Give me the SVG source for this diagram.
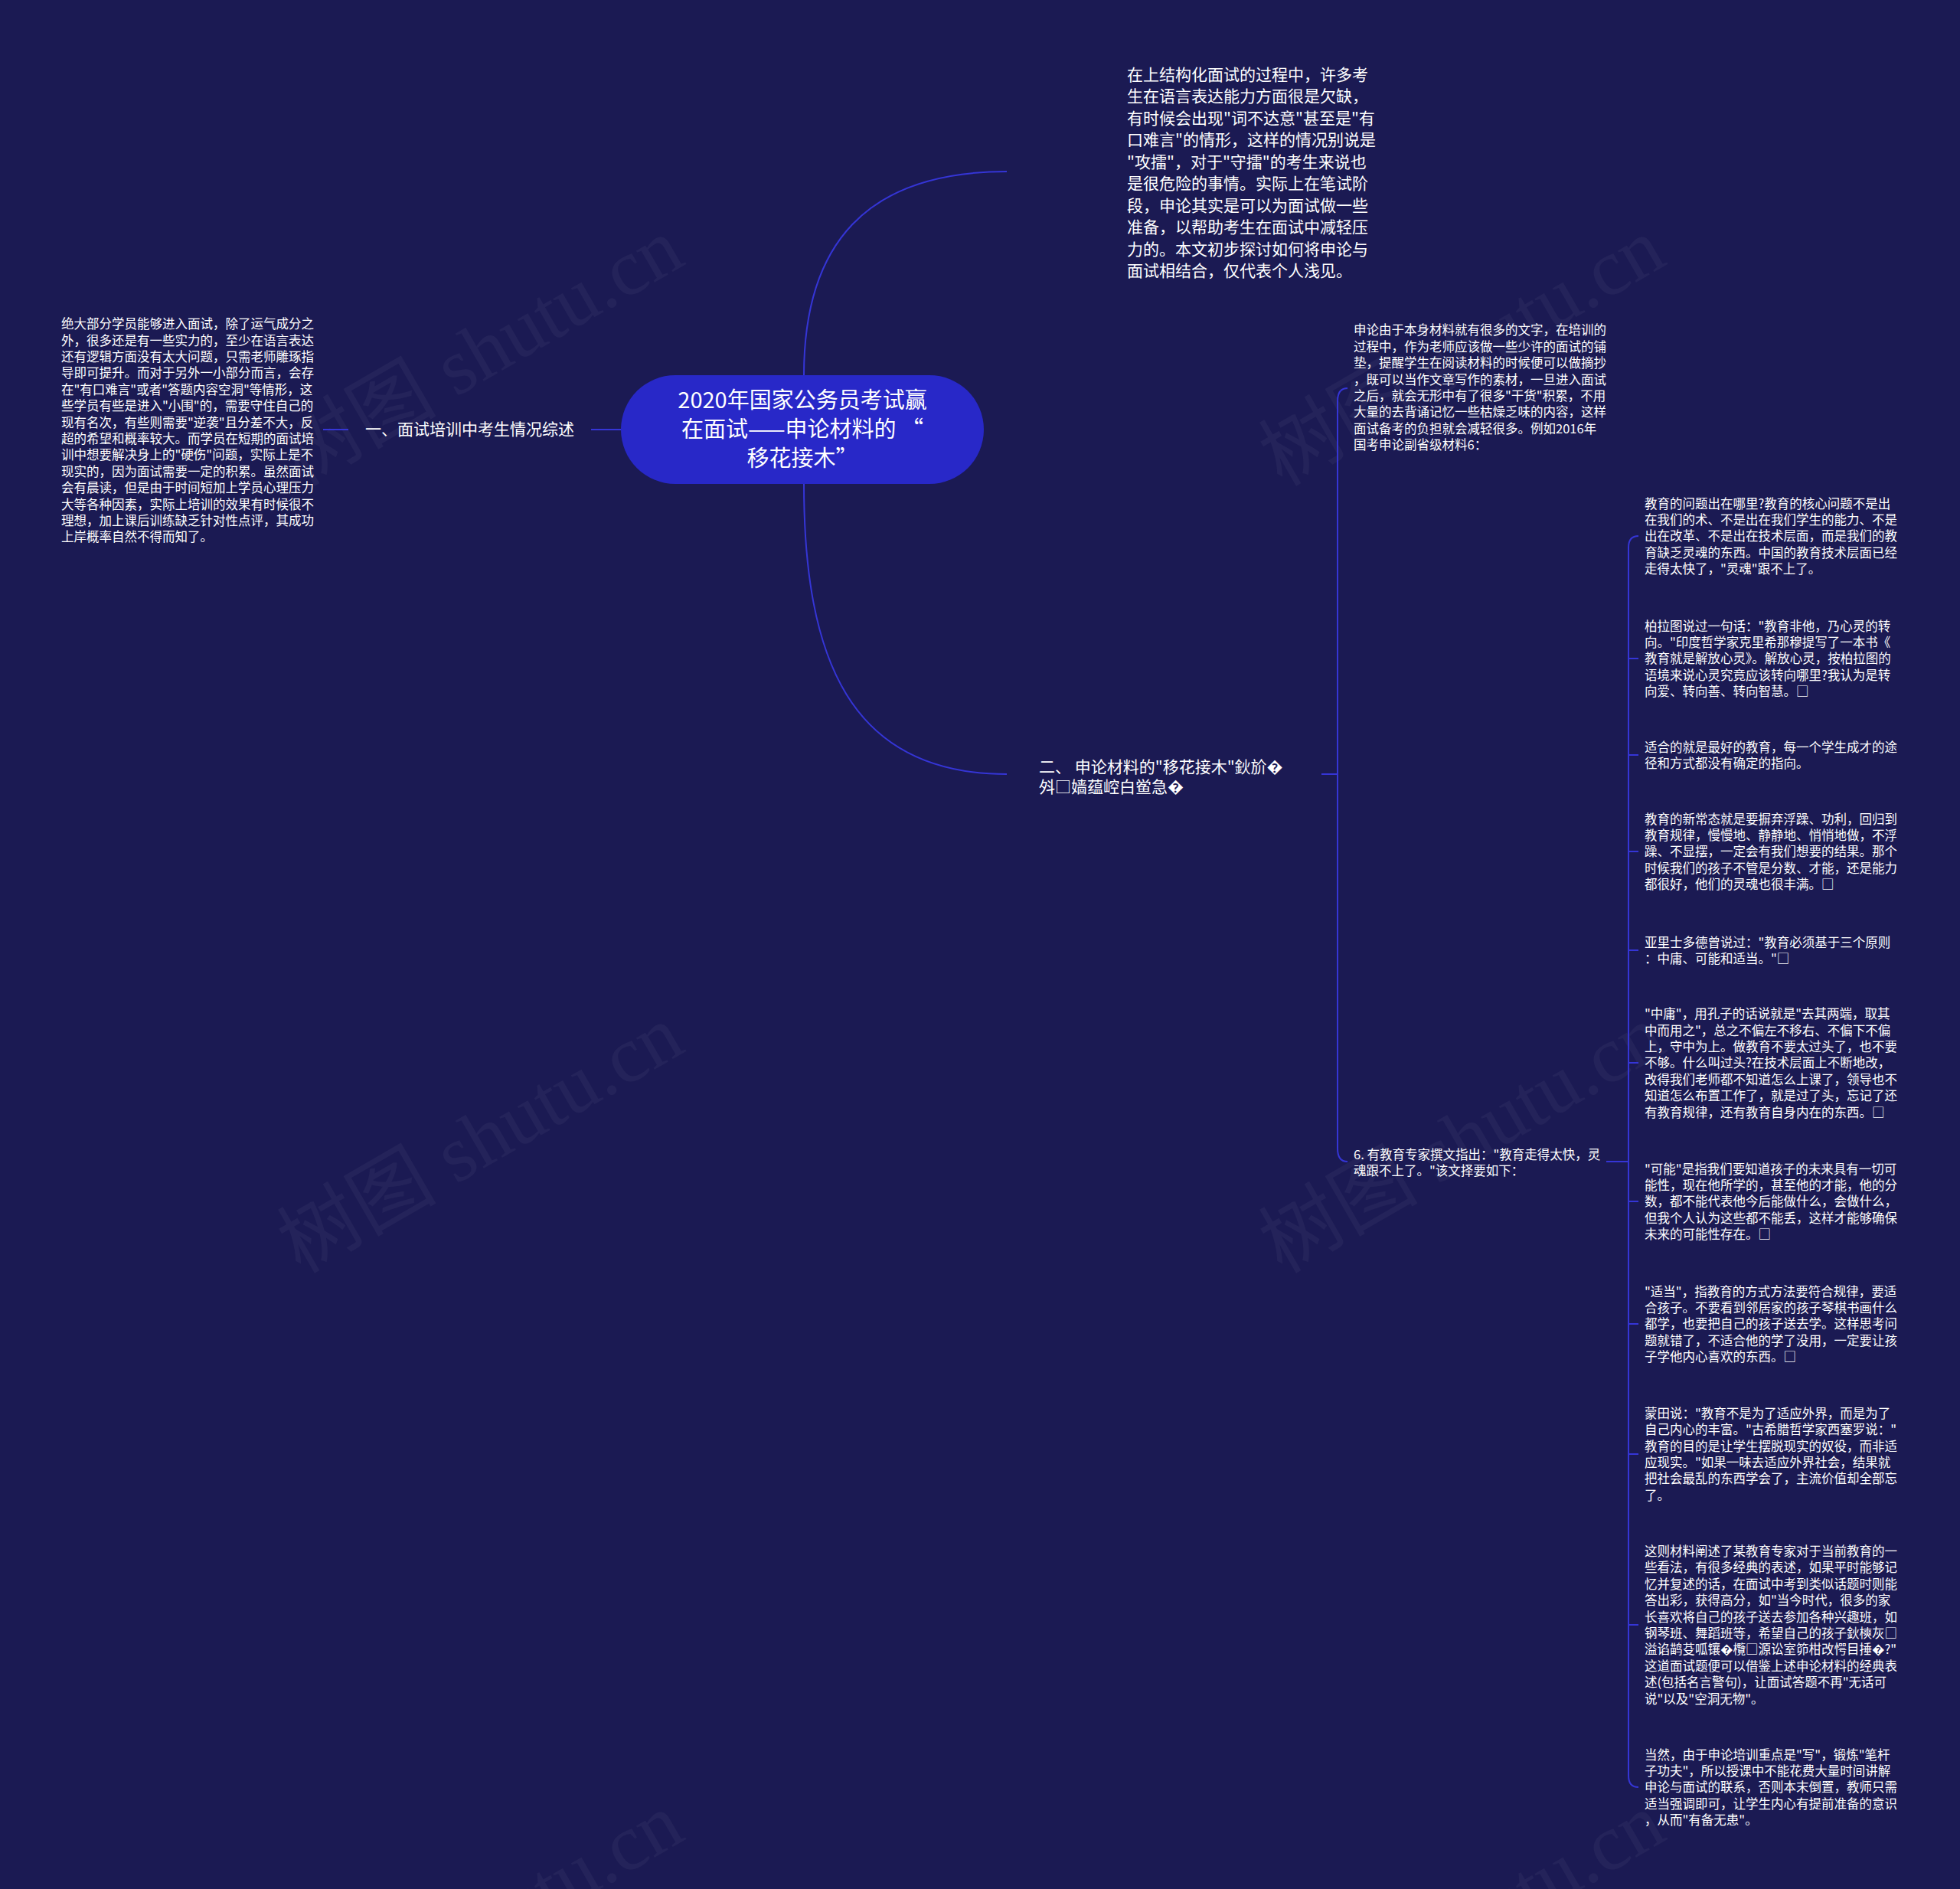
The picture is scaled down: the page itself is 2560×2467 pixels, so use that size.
<svg xmlns="http://www.w3.org/2000/svg" width="2560" height="2467" viewBox="0 0 2560 2467">
<style>
.t{font-family:"Noto Sans CJK SC","Noto Sans",sans-serif;fill:#ffffff}
.s{font-size:16.5px}
.m{font-size:21px}
.b{font-size:21px}
.c{font-size:29px;text-anchor:middle}
.l{fill:none;stroke:#3535d6;stroke-width:2}
.wm{font-family:"Liberation Serif","Noto Sans CJK SC",serif;font-size:104px;fill:#ffffff;opacity:0.04;text-anchor:middle}
</style>
<rect x="0" y="0" width="2560" height="2467" fill="#1b1a53"/>
<g id="watermarks">
<text class="wm" transform="translate(645,490) rotate(-30)">树图 shutu.cn</text>
<text class="wm" transform="translate(1927,490) rotate(-30)">树图 shutu.cn</text>
<text class="wm" transform="translate(645,1518) rotate(-30)">树图 shutu.cn</text>
<text class="wm" transform="translate(1927,1518) rotate(-30)">树图 shutu.cn</text>
<text class="wm" transform="translate(645,2547) rotate(-30)">树图 shutu.cn</text>
<text class="wm" transform="translate(1927,2547) rotate(-30)">树图 shutu.cn</text>
</g>
<g id="connectors">
<path class="l" d="M1050,490 C1050,320 1130,224 1315,224"/>
<path class="l" d="M1050,632 C1050,860 1110,1011 1315,1011"/>
<path class="l" d="M811,561 H772"/>
<path class="l" d="M455,561 H422"/>
<path class="l" d="M1726,1011 H1747"/>
<path class="l" d="M1760,507 Q1747,507 1747,524 V1500 Q1747,1517 1760,1517"/>
<path class="l" d="M2098,1517 H2127"/>
<path class="l" d="M2140,700 Q2127,700 2127,715 V2319 Q2127,2334 2140,2334"/>
<path class="l" d="M2127,860 H2140 M2127,986 H2140 M2127,1112 H2140 M2127,1241 H2140 M2127,1388 H2140 M2127,1569 H2140 M2127,1729 H2140 M2127,1899 H2140 M2127,2122 H2140"/>
</g>
<g id="root">
<rect x="811" y="490" width="474" height="142" rx="71" ry="71" fill="#2828c8"/>
<text class="t c"><tspan x="1048" y="533">2020年国家公务员考试赢</tspan><tspan x="1048" y="571">在面试——申论材料的 “</tspan><tspan x="1048" y="609">移花接木”</tspan></text>
</g>
<g id="intro">
<text class="t m"><tspan x="1472" y="105">在上结构化面试的过程中，许多考</tspan><tspan x="1472" dy="28.45">生在语言表达能力方面很是欠缺，</tspan><tspan x="1472" dy="28.45">有时候会出现"词不达意"甚至是"有</tspan><tspan x="1472" dy="28.45">口难言"的情形，这样的情况别说是</tspan><tspan x="1472" dy="28.45">"攻擂"，对于"守擂"的考生来说也</tspan><tspan x="1472" dy="28.45">是很危险的事情。实际上在笔试阶</tspan><tspan x="1472" dy="28.45">段，申论其实是可以为面试做一些</tspan><tspan x="1472" dy="28.45">准备，以帮助考生在面试中减轻压</tspan><tspan x="1472" dy="28.45">力的。本文初步探讨如何将申论与</tspan><tspan x="1472" dy="28.45">面试相结合，仅代表个人浅见。</tspan></text>
</g>
<g id="branch1">
<text class="t b" x="477" y="568">一、面试培训中考生情况综述</text>
</g>
<g id="branch1-detail">
<text class="t s"><tspan x="80" y="429.2">绝大部分学员能够进入面试，除了运气成分之</tspan><tspan x="80" dy="21.4">外，很多还是有一些实力的，至少在语言表达</tspan><tspan x="80" dy="21.4">还有逻辑方面没有太大问题，只需老师雕琢指</tspan><tspan x="80" dy="21.4">导即可提升。而对于另外一小部分而言，会存</tspan><tspan x="80" dy="21.4">在"有口难言"或者"答题内容空洞"等情形，这</tspan><tspan x="80" dy="21.4">些学员有些是进入"小围"的，需要守住自己的</tspan><tspan x="80" dy="21.4">现有名次，有些则需要"逆袭"且分差不大，反</tspan><tspan x="80" dy="21.4">超的希望和概率较大。而学员在短期的面试培</tspan><tspan x="80" dy="21.4">训中想要解决身上的"硬伤"问题，实际上是不</tspan><tspan x="80" dy="21.4">现实的，因为面试需要一定的积累。虽然面试</tspan><tspan x="80" dy="21.4">会有晨读，但是由于时间短加上学员心理压力</tspan><tspan x="80" dy="21.4">大等各种因素，实际上培训的效果有时候很不</tspan><tspan x="80" dy="21.4">理想，加上课后训练缺乏针对性点评，其成功</tspan><tspan x="80" dy="21.4">上岸概率自然不得而知了。</tspan></text>
</g>
<g id="branch2">
<text class="t m"><tspan x="1357" y="1009">二、 申论材料的"移花接木"鈥斺�</tspan><tspan x="1357" y="1035">斘□嫱蕴崆白鲎急�</tspan></text>
</g>
<g id="b2-item1">
<text class="t s"><tspan x="1768" y="437.4">申论由于本身材料就有很多的文字，在培训的</tspan><tspan x="1768" dy="21.4">过程中，作为老师应该做一些少许的面试的铺</tspan><tspan x="1768" dy="21.4">垫，提醒学生在阅读材料的时候便可以做摘抄</tspan><tspan x="1768" dy="21.4">，既可以当作文章写作的素材，一旦进入面试</tspan><tspan x="1768" dy="21.4">之后，就会无形中有了很多"干货"积累，不用</tspan><tspan x="1768" dy="21.4">大量的去背诵记忆一些枯燥乏味的内容，这样</tspan><tspan x="1768" dy="21.4">面试备考的负担就会减轻很多。例如2016年</tspan><tspan x="1768" dy="21.4">国考申论副省级材料6：</tspan></text>
</g>
<g id="b2-item2">
<text class="t s"><tspan x="1768" y="1513.6">6. 有教育专家撰文指出："教育走得太快，灵</tspan><tspan x="1768" dy="21.4">魂跟不上了。"该文择要如下：</tspan></text>
</g>
<g id="c1">
<text class="t s"><tspan x="2148" y="663.5">教育的问题出在哪里?教育的核心问题不是出</tspan><tspan x="2148" dy="21.4">在我们的术、不是出在我们学生的能力、不是</tspan><tspan x="2148" dy="21.4">出在改革、不是出在技术层面，而是我们的教</tspan><tspan x="2148" dy="21.4">育缺乏灵魂的东西。中国的教育技术层面已经</tspan><tspan x="2148" dy="21.4">走得太快了，"灵魂"跟不上了。</tspan></text>
</g>
<g id="c2">
<text class="t s"><tspan x="2148" y="823.5">柏拉图说过一句话："教育非他，乃心灵的转</tspan><tspan x="2148" dy="21.4">向。"印度哲学家克里希那穆提写了一本书《</tspan><tspan x="2148" dy="21.4">教育就是解放心灵》。解放心灵，按柏拉图的</tspan><tspan x="2148" dy="21.4">语境来说心灵究竟应该转向哪里?我认为是转</tspan><tspan x="2148" dy="21.4">向爱、转向善、转向智慧。□</tspan></text>
</g>
<g id="c3">
<text class="t s"><tspan x="2148" y="981.6">适合的就是最好的教育，每一个学生成才的途</tspan><tspan x="2148" dy="21.4">径和方式都没有确定的指向。</tspan></text>
</g>
<g id="c4">
<text class="t s"><tspan x="2148" y="1075.5">教育的新常态就是要摒弃浮躁、功利，回归到</tspan><tspan x="2148" dy="21.4">教育规律，慢慢地、静静地、悄悄地做，不浮</tspan><tspan x="2148" dy="21.4">躁、不显摆，一定会有我们想要的结果。那个</tspan><tspan x="2148" dy="21.4">时候我们的孩子不管是分数、才能，还是能力</tspan><tspan x="2148" dy="21.4">都很好，他们的灵魂也很丰满。□</tspan></text>
</g>
<g id="c5">
<text class="t s"><tspan x="2148" y="1236.6">亚里士多德曾说过："教育必须基于三个原则</tspan><tspan x="2148" dy="21.4">：中庸、可能和适当。"□</tspan></text>
</g>
<g id="c6">
<text class="t s"><tspan x="2148" y="1330.1">"中庸"，用孔子的话说就是"去其两端，取其</tspan><tspan x="2148" dy="21.4">中而用之"，总之不偏左不移右、不偏下不偏</tspan><tspan x="2148" dy="21.4">上，守中为上。做教育不要太过头了，也不要</tspan><tspan x="2148" dy="21.4">不够。什么叫过头?在技术层面上不断地改，</tspan><tspan x="2148" dy="21.4">改得我们老师都不知道怎么上课了，领导也不</tspan><tspan x="2148" dy="21.4">知道怎么布置工作了，就是过了头，忘记了还</tspan><tspan x="2148" dy="21.4">有教育规律，还有教育自身内在的东西。□</tspan></text>
</g>
<g id="c7">
<text class="t s"><tspan x="2148" y="1532.5">"可能"是指我们要知道孩子的未来具有一切可</tspan><tspan x="2148" dy="21.4">能性，现在他所学的，甚至他的才能，他的分</tspan><tspan x="2148" dy="21.4">数，都不能代表他今后能做什么，会做什么，</tspan><tspan x="2148" dy="21.4">但我个人认为这些都不能丢，这样才能够确保</tspan><tspan x="2148" dy="21.4">未来的可能性存在。□</tspan></text>
</g>
<g id="c8">
<text class="t s"><tspan x="2148" y="1692.5">"适当"，指教育的方式方法要符合规律，要适</tspan><tspan x="2148" dy="21.4">合孩子。不要看到邻居家的孩子琴棋书画什么</tspan><tspan x="2148" dy="21.4">都学，也要把自己的孩子送去学。这样思考问</tspan><tspan x="2148" dy="21.4">题就错了，不适合他的学了没用，一定要让孩</tspan><tspan x="2148" dy="21.4">子学他内心喜欢的东西。□</tspan></text>
</g>
<g id="c9">
<text class="t s"><tspan x="2148" y="1851.8">蒙田说："教育不是为了适应外界，而是为了</tspan><tspan x="2148" dy="21.4">自己内心的丰富。"古希腊哲学家西塞罗说："</tspan><tspan x="2148" dy="21.4">教育的目的是让学生摆脱现实的奴役，而非适</tspan><tspan x="2148" dy="21.4">应现实。"如果一味去适应外界社会，结果就</tspan><tspan x="2148" dy="21.4">把社会最乱的东西学会了，主流价值却全部忘</tspan><tspan x="2148" dy="21.4">了。</tspan></text>
</g>
<g id="c10">
<text class="t s"><tspan x="2148" y="2032">这则材料阐述了某教育专家对于当前教育的一</tspan><tspan x="2148" dy="21.4">些看法，有很多经典的表述，如果平时能够记</tspan><tspan x="2148" dy="21.4">忆并复述的话，在面试中考到类似话题时则能</tspan><tspan x="2148" dy="21.4">答出彩，获得高分，如"当今时代，很多的家</tspan><tspan x="2148" dy="21.4">长喜欢将自己的孩子送去参加各种兴趣班，如</tspan><tspan x="2148" dy="21.4">钢琴班、舞蹈班等，希望自己的孩子鈥樉灰□</tspan><tspan x="2148" dy="21.4">溢谄鹋芟呱镶�欖□源讼室笷柑改愕目捶�?"</tspan><tspan x="2148" dy="21.4">这道面试题便可以借鉴上述申论材料的经典表</tspan><tspan x="2148" dy="21.4">述(包括名言警句)，让面试答题不再"无话可</tspan><tspan x="2148" dy="21.4">说"以及"空洞无物"。</tspan></text>
</g>
<g id="c11">
<text class="t s"><tspan x="2148" y="2297.5">当然，由于申论培训重点是"写"，锻炼"笔杆</tspan><tspan x="2148" dy="21.4">子功夫"，所以授课中不能花费大量时间讲解</tspan><tspan x="2148" dy="21.4">申论与面试的联系，否则本末倒置，教师只需</tspan><tspan x="2148" dy="21.4">适当强调即可，让学生内心有提前准备的意识</tspan><tspan x="2148" dy="21.4">，从而"有备无患"。</tspan></text>
</g>
</svg>
